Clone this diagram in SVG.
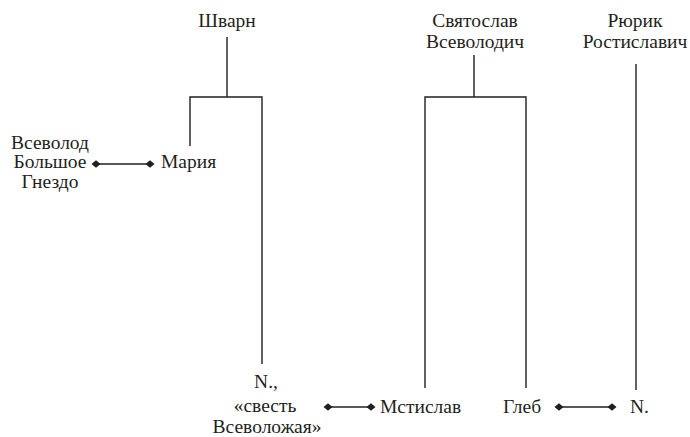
<svg xmlns="http://www.w3.org/2000/svg" width="690" height="437" viewBox="0 0 690 437">
<style>
text{font-size:19.5px;fill:#231f20;text-anchor:middle}
.l{text-anchor:start}
.c line,.c path{stroke:#231f20;stroke-width:1.4;fill:none}
</style>
<defs>
<path id="d" d="M-4.5,0 L0,-3.8 L4.5,0 L0,3.8 Z" fill="#231f20"/>
</defs>
<rect width="690" height="437" fill="#fff"/>
<g font-family="'Liberation Serif', 'DejaVu Serif', serif">
<g id="shvarn"><text x="227" y="27">Шварн</text></g>
<g id="svyatoslav"><text x="475" y="27">Святослав</text><text x="475" y="48">Всеволодич</text></g>
<g id="ryurik"><text x="635" y="27">Рюрик</text><text x="635" y="48">Ростиславич</text></g>
<g id="vsevolod"><text x="50" y="149">Всеволод</text><text x="50" y="168">Большое</text><text x="50" y="188">Гнездо</text></g>
<g id="mariya"><text class="l" x="161" y="168">Мария</text></g>
<g id="nsvest"><text x="266" y="388">N.,</text><text x="265" y="412">«свесть</text><text x="267" y="433">Всеволожая»</text></g>
<g id="mstislav"><text class="l" x="380" y="413">Мстислав</text></g>
<g id="gleb"><text class="l" x="503" y="413">Глеб</text></g>
<g id="n"><text class="l" x="630" y="413">N.</text></g>
</g>
<g id="connectors" class="c">
<path d="M227,37 V97 M190,146 V97 H262 V364"/>
<path d="M474,55 V97 M425,388 V97 H526 V388"/>
<line x1="636" y1="64" x2="636" y2="390"/>
<line x1="96" y1="164" x2="150" y2="164"/>
<use href="#d" x="96" y="164"/><use href="#d" x="150" y="164"/>
<line x1="328" y1="407" x2="371" y2="407"/>
<use href="#d" x="328" y="407"/><use href="#d" x="371" y="407"/>
<line x1="559" y1="407" x2="612" y2="407"/>
<use href="#d" x="559" y="407"/><use href="#d" x="612" y="407"/>
</g>
</svg>
